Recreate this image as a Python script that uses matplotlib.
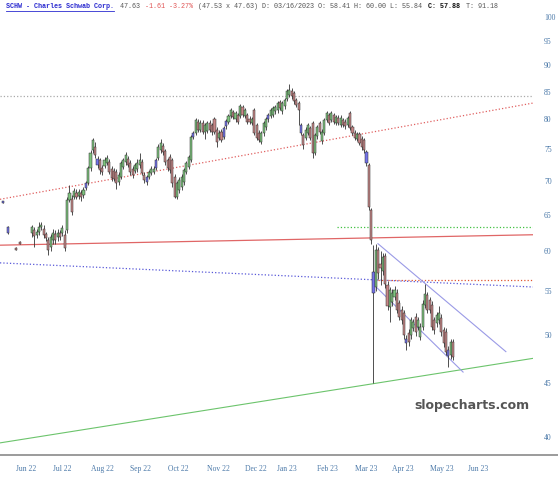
import numpy as np
import matplotlib
matplotlib.use("Agg")
import matplotlib.pyplot as plt
from matplotlib.lines import Line2D

# daily candles (O, H, L, C), Jun 2022 -> May 2023
opens = [62.4, 62.8, 62.2, 62.6, 63.3, 63.0, 62.3, 61.5, 60.6, 61.5,
         62.3, 61.9, 62.5, 62.4, 62.2, 62.9, 67.1, 67.3, 67.6, 68.2,
         67.7, 68.2, 67.8, 68.9, 69.6, 71.9, 74.8, 75.4, 73.4, 73.2,
         72.0, 72.3, 72.8, 72.9, 71.8, 71.5, 71.3, 69.8, 70.6, 72.1,
         72.9, 73.4, 72.8, 71.8, 71.5, 71.8, 72.5, 72.9, 70.9, 70.5,
         70.6, 71.1, 71.4, 72.0, 73.6, 74.8, 75.5, 74.6, 73.2, 73.7,
         73.2, 70.6, 67.6, 68.6, 69.0, 69.8, 71.3, 72.1, 73.2, 77.0,
         77.7, 79.6, 78.2, 79.4, 77.8, 78.0, 79.4, 79.0, 80.1, 78.2,
         76.8, 77.9, 77.0, 78.8, 79.6, 80.6, 81.3, 80.0, 80.8, 80.6,
         82.2, 80.6, 80.8, 80.1, 79.4, 81.6, 79.0, 77.7, 76.1, 77.6,
         78.6, 80.0, 80.6, 80.8, 81.4, 81.6, 83.1, 81.4, 82.3, 83.7,
         84.4, 85.2, 84.8, 83.4, 82.9, 79.0, 77.3, 76.9, 77.7, 78.5,
         79.4, 74.4, 77.1, 79.4, 76.3, 77.7, 79.9, 80.8, 79.9, 80.8,
         79.4, 80.3, 79.0, 79.9, 79.6, 79.0, 81.1, 78.6, 77.7, 76.7,
         77.5, 76.7, 76.5, 74.5, 72.4, 65.6, 57.4, 55.5, 60.2, 58.4,
         57.5, 59.4, 55.8, 53.1, 53.7, 54.3, 54.8, 53.6, 52.8, 52.4,
         49.6, 50.2, 50.0, 50.8, 52.0, 50.9, 49.8, 50.9, 53.4, 54.5,
         53.9, 53.4, 51.6, 51.3, 51.6, 51.9, 50.5, 50.3, 48.4, 47.8,
         49.2]
highs = [63.6, 63.3, 63.0, 63.9, 64.0, 63.6, 62.6, 61.9, 62.3, 63.0,
         62.8, 63.0, 62.9, 63.5, 62.8, 67.6, 69.3, 67.8, 68.9, 68.7,
         68.8, 68.6, 69.0, 70.0, 72.2, 74.8, 76.9, 76.2, 73.9, 73.6,
         72.5, 73.7, 74.0, 73.3, 72.2, 71.9, 71.8, 71.3, 73.1, 73.6,
         74.5, 73.9, 73.2, 72.2, 72.8, 73.3, 74.4, 73.4, 71.3, 70.9,
         71.7, 72.2, 72.3, 73.6, 75.8, 76.6, 76.0, 75.0, 73.6, 74.2,
         73.6, 71.0, 70.0, 70.5, 71.0, 72.0, 73.1, 74.1, 77.4, 78.0,
         80.3, 80.0, 79.9, 79.9, 79.4, 79.8, 79.9, 79.4, 80.5, 78.6,
         78.1, 78.3, 78.9, 80.1, 81.0, 82.0, 81.7, 81.5, 81.2, 82.7,
         82.6, 82.0, 81.2, 80.6, 80.5, 82.0, 79.4, 78.1, 78.0, 79.8,
         80.4, 81.2, 82.0, 82.4, 82.6, 83.3, 83.5, 83.3, 83.8, 85.5,
         86.4, 85.6, 85.2, 83.8, 83.3, 79.4, 77.7, 78.6, 79.4, 78.9,
         79.8, 77.7, 79.1, 79.8, 78.3, 80.3, 81.5, 81.2, 81.5, 81.2,
         80.8, 80.7, 80.7, 80.3, 80.0, 80.6, 81.5, 79.0, 78.1, 77.9,
         77.9, 77.1, 76.9, 74.9, 72.8, 66.0, 60.8, 60.9, 60.6, 60.0,
         59.8, 59.8, 56.2, 55.5, 55.2, 55.6, 55.2, 54.0, 53.2, 52.8,
         50.0, 50.6, 52.0, 51.8, 52.4, 52.0, 51.3, 53.9, 55.9, 54.9,
         54.3, 53.8, 52.0, 52.6, 53.2, 52.3, 50.9, 50.7, 48.8, 49.6,
         49.5]
lows = [61.9, 60.6, 61.8, 62.2, 62.9, 61.8, 61.3, 59.5, 60.0, 61.0,
        61.0, 61.4, 61.5, 62.0, 60.0, 62.5, 66.8, 65.0, 67.2, 67.2,
        67.3, 67.0, 67.4, 68.6, 69.3, 71.5, 74.3, 73.6, 72.0, 71.0,
        70.8, 71.9, 72.4, 71.0, 70.0, 69.9, 68.8, 69.4, 70.2, 71.8,
        72.5, 72.1, 70.9, 70.4, 71.1, 71.4, 72.0, 70.8, 69.6, 69.4,
        70.2, 70.8, 71.0, 71.7, 73.2, 74.4, 74.1, 72.5, 71.5, 71.2,
        69.1, 67.4, 67.2, 68.2, 68.6, 69.4, 71.0, 71.8, 72.9, 76.6,
        77.3, 77.8, 77.8, 77.5, 76.7, 77.6, 77.8, 77.4, 77.5, 75.3,
        76.4, 76.1, 76.6, 78.4, 79.2, 80.2, 80.1, 79.6, 79.2, 80.2,
        80.4, 80.2, 79.2, 79.2, 79.0, 77.3, 76.5, 76.1, 75.9, 77.2,
        78.2, 79.6, 80.2, 80.4, 81.0, 81.2, 81.6, 81.0, 81.9, 83.3,
        84.0, 83.7, 82.8, 82.2, 79.0, 77.3, 75.0, 76.5, 77.3, 76.5,
        73.5, 74.0, 76.7, 77.5, 75.9, 77.3, 79.5, 79.0, 79.5, 79.2,
        79.0, 79.0, 78.6, 78.6, 78.4, 78.6, 78.1, 77.3, 76.5, 76.3,
        75.6, 74.9, 74.4, 72.3, 65.7, 61.0, 45.0, 55.0, 56.5, 55.8,
        57.0, 55.4, 52.8, 51.4, 53.3, 53.9, 52.4, 51.6, 51.2, 49.6,
        48.4, 48.8, 49.6, 50.4, 49.9, 50.5, 49.4, 50.5, 53.0, 52.4,
        52.4, 50.5, 50.1, 50.9, 51.2, 49.9, 48.7, 47.8, 46.6, 47.4,
        47.3]
closes = [63.3, 62.0, 62.6, 63.3, 63.6, 62.2, 61.8, 60.2, 61.9, 62.5,
          61.5, 62.5, 61.9, 63.1, 60.4, 67.1, 68.1, 65.4, 68.4, 67.6,
          68.3, 67.5, 68.6, 69.6, 71.9, 74.3, 76.5, 74.0, 72.4, 71.6,
          71.3, 73.2, 73.6, 71.3, 70.4, 70.3, 69.6, 70.9, 72.7, 73.2,
          74.0, 72.5, 71.3, 70.8, 72.4, 72.8, 73.2, 71.1, 70.1, 69.8,
          71.3, 71.8, 71.8, 73.2, 75.4, 76.0, 74.5, 72.9, 71.9, 71.6,
          69.6, 67.6, 69.6, 70.1, 70.6, 71.6, 72.7, 73.7, 77.0, 77.6,
          79.9, 78.2, 79.4, 77.9, 79.0, 79.4, 78.2, 77.8, 77.9, 76.1,
          77.7, 76.5, 78.5, 79.7, 80.6, 81.6, 80.5, 81.1, 79.6, 82.3,
          80.8, 81.6, 79.6, 79.6, 80.0, 77.7, 76.9, 76.5, 77.6, 79.4,
          80.0, 80.8, 81.6, 82.0, 82.2, 82.9, 82.0, 82.9, 83.4, 85.1,
          85.3, 84.1, 83.2, 82.6, 81.6, 77.7, 75.6, 78.2, 79.0, 76.9,
          74.3, 77.3, 78.7, 77.9, 77.9, 79.9, 81.1, 79.4, 81.1, 79.6,
          80.4, 79.4, 80.3, 79.0, 78.8, 80.2, 78.5, 77.7, 76.9, 77.5,
          76.0, 75.3, 74.8, 72.7, 66.1, 61.5, 54.8, 60.2, 57.2, 57.9,
          59.2, 55.9, 53.2, 55.1, 54.8, 55.1, 52.8, 52.0, 51.6, 50.0,
          49.1, 49.2, 51.6, 51.4, 50.3, 51.6, 50.9, 53.5, 54.7, 52.8,
          52.8, 50.9, 50.5, 52.2, 52.4, 50.3, 49.1, 48.2, 47.7, 49.2,
          47.6]
# candles drawn in blue on the source chart
blue_days = [23, 28, 49, 53, 69, 82, 83, 101, 115, 143, 146, 160, 178]

# a few sparse prints before the main run
early_pos = [-12.4, -10.3, -6.8, -5.1]
early_o = [66.9, 63.3, 60.4, 61.2]
early_h = [67.0, 63.4, 60.5, 61.3]
early_l = [66.6, 62.3, 60.1, 60.9]
early_c = [66.7, 62.4, 60.2, 61.0]

# month labels and where they sit on the day axis
month_labels = ["Jun 22", "Jul 22", "Aug 22", "Sep 22", "Oct 22", "Nov 22", "Dec 22",
                "Jan 23", "Feb 23", "Mar 23", "Apr 23", "May 23", "Jun 23"]
month_pos = [-2.6, 12.8, 29.9, 46.2, 62.4, 79.5, 95.8, 109.0, 126.1, 142.8, 158.6, 175.3, 190.7]
price_ticks = [40, 45, 50, 55, 60, 65, 70, 75, 80, 85, 90, 95, 100]

# drawn trendlines: (x0, x1), (p0, p1)
X_LEFT, X_RIGHT = -13.7, 214.2
trend_lines = [
    ((X_LEFT, X_RIGHT), (84.1, 84.1), "#aaaaaa", ":", 0.9),   # gray resistance
    ((X_LEFT, X_RIGHT), (67.2, 82.9), "#e06060", ":", 0.9),   # rising red dotted
    ((X_LEFT, X_RIGHT), (60.8, 62.2), "#e06666", "-", 0.9),   # red solid
    ((X_LEFT, X_RIGHT), (58.5, 55.5), "#5858d8", ":", 0.9),   # blue dotted
    ((148.0, X_RIGHT), (56.4, 56.4), "#e05530", ":", 0.9),    # orange dotted
    ((130.4, X_RIGHT), (63.2, 63.2), "#40c040", ":", 0.9),    # green dotted
    ((X_LEFT, X_RIGHT), (39.5, 47.5), "#6cc46c", "-", 0.8),   # green support
    ((147.9, 202.6), (61.0, 48.2), "#9a9ae6", "-", 0.8),      # channel top
    ((147.5, 184.3), (55.4, 46.1), "#9a9ae6", "-", 0.8),      # channel bottom
]

UP, DOWN, BLUE = "#7fc47f", "#c78888", "#7373ea"
tick_color = "#4a78a8"

fig = plt.figure(figsize=(5.58, 4.8), dpi=100)
ax = fig.add_axes([0, 25 / 480, 533 / 558, 455 / 480])
ax.set_yscale("log")
ax.set_xlim(X_LEFT, X_RIGHT)
ax.set_ylim(38.47, 103.8)

for (xs, ps, col, ls, lw) in trend_lines:
    ax.plot(xs, ps, color=col, ls=ls, lw=lw, zorder=1)


def draw_candles(pos, o, h, l, c, blue=()):
    pos = np.asarray(pos, float)
    o, h, l, c = map(np.asarray, (o, h, l, c))
    cols = np.where(c >= o, UP, DOWN).astype(object)
    for b in blue:
        cols[b] = BLUE
    ax.vlines(pos, l, h, color="#333333", lw=0.6, zorder=2)
    ax.bar(pos, np.abs(c - o), bottom=np.minimum(o, c), width=0.9,
           color=list(cols), edgecolor="#2a2a2a", linewidth=0.35, zorder=3)


draw_candles(np.arange(len(closes)), opens, highs, lows, closes, blue_days)
draw_candles(early_pos, early_o, early_h, early_l, early_c, blue=[0, 1])

for s in ["top", "left", "right", "bottom"]:
    ax.spines[s].set_visible(False)
ax.set_xticks(month_pos)
ax.set_xticklabels(month_labels)
ax.yaxis.tick_right()
ax.set_yticks(price_ticks)
ax.set_yticklabels([str(p) for p in price_ticks])
ax.yaxis.set_minor_locator(matplotlib.ticker.NullLocator())
ax.tick_params(axis="both", length=0, labelsize=5.5, labelcolor=tick_color)
ax.tick_params(axis="x", pad=7)
ax.tick_params(axis="y", pad=8)
for t in ax.get_xticklabels() + ax.get_yticklabels():
    t.set_fontfamily("Liberation Serif")

# bottom frame line across the whole figure
fig.add_artist(Line2D([0, 1], [25 / 480, 25 / 480], color="#8a8a8a", lw=1.2))

# header line, segments laid out one after another
segments = [
    ("SCHW - Charles Schwab Corp.", "#2b2bd0", "bold"),
    (" 47.63", "#555555", "normal"),
    (" -1.61 -3.27%", "#e05555", "normal"),
    (" (47.53 x 47.63) D: 03/16/2023 O: 58.41 H: 60.00 L: 55.84", "#555555", "normal"),
    (" C: 57.88", "#111111", "bold"),
    (" T: 91.18", "#555555", "normal"),
]
renderer = fig.canvas.get_renderer()
x_px = 6
y_hdr = 1 - 7 / 480
name_end = None
for txt, col, wt in segments:
    t = fig.text(x_px / 558, y_hdr, txt, family="Liberation Mono", fontsize=4.9,
                 color=col, weight=wt, va="center", ha="left")
    bb = t.get_window_extent(renderer)
    x_px = bb.x1 + 1.5
    if name_end is None:
        name_end = bb.x1
fig.add_artist(Line2D([6 / 558, name_end / 558], [y_hdr - 4 / 480] * 2,
                      color="#2b2bd0", lw=0.6))

fig.text(472 / 558, 1 - 405 / 480, "slopecharts.com", fontsize=9, weight="bold",
         color="#555555", ha="center", va="center")

fig.savefig("out.png", dpi=100)
